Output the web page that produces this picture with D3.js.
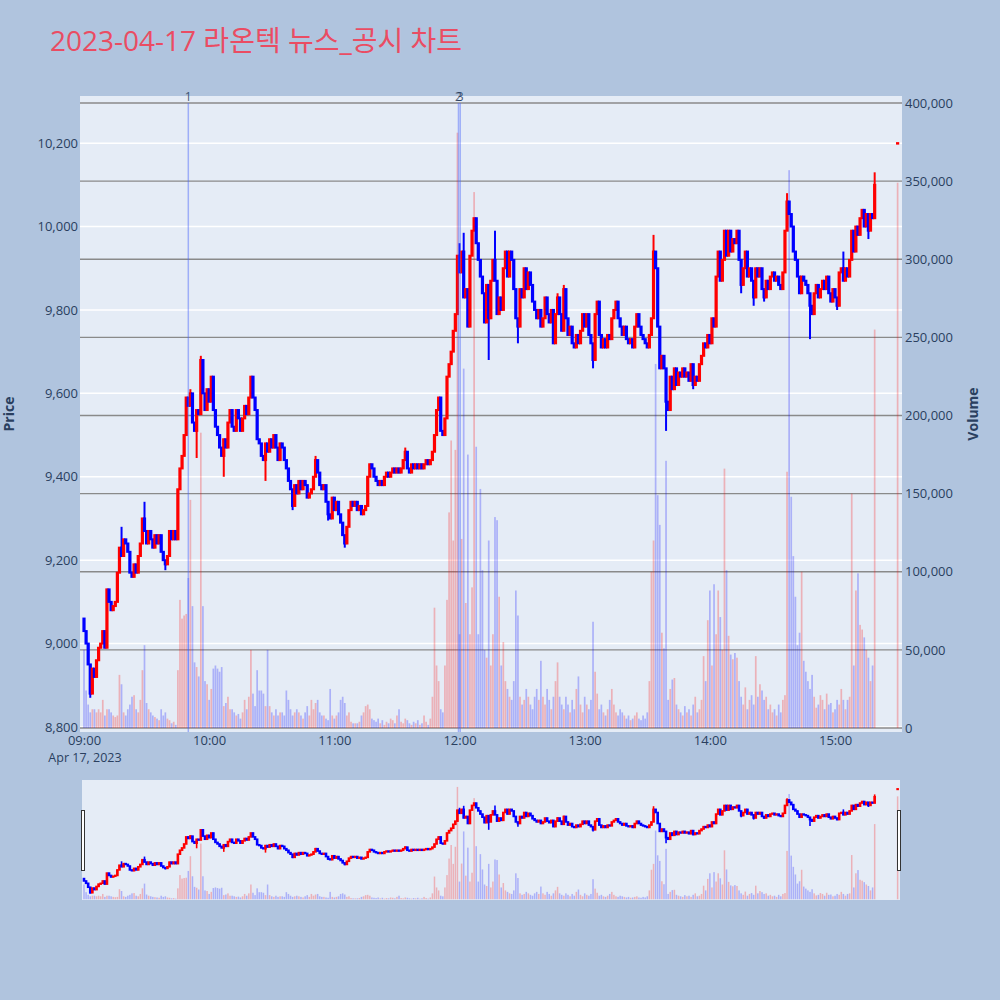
<!DOCTYPE html>
<html><head><meta charset="utf-8">
<script src="https://cdn.jsdelivr.net/npm/d3@7"></script>
<style>body{margin:0;background:#b0c4de;} svg{display:block;}</style>
</head><body><svg id="c" width="1000" height="1000"></svg>
<script>
// ---------------- DATA ----------------
const chartTitle = "2023-04-17 라온텍 뉴스_공시 차트";
const tradeDate = "2023-04-17";
const sessionStart = "09:00:00";
const firstOpen = 9060;
// one close per minute, 09:00 .. 15:19
const closes = [
9030,9000,8950,8880,8940,8920,8960,8990,9000,9030,
8990,9130,9100,9080,9090,9100,9170,9230,9210,9250,
9240,9220,9170,9160,9190,9170,9210,9240,9300,9270,
9240,9270,9250,9230,9260,9240,9260,9220,9200,9190,
9210,9270,9250,9270,9250,9370,9420,9450,9500,9590,
9570,9600,9530,9510,9560,9550,9680,9600,9560,9610,
9580,9640,9560,9520,9500,9470,9450,9490,9470,9530,
9560,9520,9510,9560,9540,9510,9540,9570,9550,9590,
9640,9590,9560,9490,9480,9450,9440,9480,9460,9490,
9470,9500,9470,9440,9480,9470,9440,9420,9390,9370,
9330,9380,9360,9390,9370,9390,9380,9350,9360,9370,
9400,9440,9410,9380,9370,9380,9340,9310,9300,9350,
9320,9340,9310,9290,9260,9240,9280,9320,9340,9330,
9340,9320,9330,9310,9320,9330,9400,9430,9420,9400,
9390,9380,9390,9380,9400,9410,9400,9410,9420,9410,
9420,9410,9420,9440,9460,9420,9410,9430,9420,9430,
9420,9430,9420,9430,9440,9430,9440,9460,9500,9560,
9590,9510,9500,9540,9640,9670,9700,9750,9790,9930,
9890,9940,9830,9850,9760,9930,9990,10020,9960,9920,
9880,9840,9770,9860,9780,9870,9920,9870,9790,9830,
9800,9900,9940,9880,9940,9920,9850,9780,9760,9850,
9830,9900,9850,9890,9860,9820,9800,9780,9800,9760,
9780,9830,9790,9770,9800,9720,9790,9830,9790,9750,
9850,9780,9740,9760,9720,9710,9740,9720,9750,9790,
9760,9790,9740,9720,9680,9790,9820,9740,9710,9730,
9710,9740,9730,9780,9800,9820,9780,9760,9740,9760,
9730,9720,9730,9710,9760,9790,9760,9740,9730,9720,
9710,9740,9780,9940,9900,9760,9660,9690,9660,9580,
9560,9640,9610,9660,9620,9650,9640,9660,9640,9650,
9630,9670,9620,9640,9630,9670,9690,9720,9710,9740,
9720,9780,9760,9880,9940,9870,9920,9990,9930,9990,
9940,9970,9960,9990,9920,9860,9900,9940,9880,9900,
9870,9830,9900,9880,9900,9850,9830,9870,9850,9880,
9890,9870,9880,9860,9850,9890,9990,10060,10030,10000,
9940,9920,9880,9840,9880,9870,9860,9840,9810,9790,
9840,9860,9830,9850,9870,9850,9880,9840,9820,9850,
9830,9810,9890,9900,9870,9900,9880,9920,9990,9940,
10000,9980,10020,10040,10000,10030,9990,10030,10020,10100
];
const volumes = [
50000,24000,15000,10000,12000,12000,10000,12000,10000,18000,
8000,12000,12000,10000,8000,7000,8000,34000,28000,10000,
8000,12000,15000,20000,21000,12000,10000,18000,37000,53000,
16000,12000,10000,8000,7000,6000,5000,12000,8000,10000,
6000,5000,3000,4000,2000,37000,82000,70000,72000,73000,
96000,146000,78000,42000,39000,33000,189000,78000,30000,28000,
18000,25000,38000,40000,38000,36000,39000,14000,16000,20000,
12000,12000,10000,8000,9000,6000,10000,18000,12000,20000,
50000,22000,14000,37000,24000,24000,22000,14000,50000,14000,
10000,8000,12000,8000,10000,10000,8000,24000,18000,12000,
8000,10000,12000,10000,8000,6000,10000,14000,8000,18000,
12000,16000,18000,10000,8000,8000,6000,5000,25000,8000,
6000,8000,10000,18000,20000,16000,8000,10000,4000,3000,
3000,3000,4000,8000,10000,14000,15000,12000,6000,5000,
4000,6000,3000,5000,2000,4000,3000,6000,5000,3000,
8000,12000,4000,3000,6000,5000,3000,2000,4000,3000,
5000,2000,3000,8000,4000,2000,6000,20000,77000,40000,
30000,12000,10000,40000,82000,138000,184000,120000,178000,381000,
60000,121000,230000,80000,175000,60000,90000,343000,180000,60000,
153000,101000,50000,45000,120000,40000,60000,135000,133000,84000,
40000,55000,30000,25000,20000,18000,30000,88000,72000,20000,
15000,18000,25000,20000,15000,12000,20000,25000,18000,43000,
20000,15000,25000,18000,12000,20000,30000,42000,20000,15000,
12000,20000,15000,10000,18000,12000,25000,33000,15000,10000,
20000,15000,12000,18000,68000,36000,22000,12000,15000,10000,
8000,12000,18000,25000,15000,10000,8000,12000,10000,8000,
6000,8000,5000,6000,8000,10000,6000,5000,8000,6000,
10000,30000,100000,120000,233000,149000,130000,61000,51000,171000,
18000,25000,31000,32000,15000,12000,10000,8000,14000,10000,
12000,8000,15000,20000,10000,12000,18000,46000,30000,69000,
88000,40000,92000,60000,88000,71000,50000,166000,101000,59000,
47000,44000,48000,45000,30000,20000,15000,26000,12000,18000,
21000,15000,46000,20000,28000,24000,18000,20000,12000,15000,
10000,12000,8000,15000,10000,18000,21000,164000,357000,148000,
110000,84000,53000,61000,100000,43000,36000,30000,25000,34000,
20000,13000,15000,21000,18000,12000,22000,15000,16000,10000,
12000,18000,15000,25000,18000,12000,18000,20000,150000,40000,
88000,99000,66000,63000,58000,50000,45000,30000,40000,255000
];
// minutes (from 09:00) whose wick reaches beyond the body
const wickMinutes = [3,18,29,39,51,54,56,67,87,100,111,117,125,154,180,182,194,197,208,227,230,244,273,279,292,315,321,326,337,348,361,364,376,379];
const wickHighs   = [null,9280,9340,null,9610,null,9690,null,null,null,9450,null,null,9470,9960,9985,null,9990,null,9840,9860,null,9980,null,null,null,null,null,10080,null,null,9940,null,10130];
const wickLows    = [8870,null,null,9176,null,9445,null,9400,9390,9320,null,9295,9230,null,null,null,9680,null,9720,null,null,9660,null,9510,9610,9840,9810,9820,null,9730,9800,null,9970,null];
// closing single-price trade
const auctionTime = "15:30:00";
const auctionPrice = 10200;
const auctionVolume = 349000;
// ticks
const priceTicks = [8800,9000,9200,9400,9600,9800,10000,10200];
const volumeTicks = [0,50000,100000,150000,200000,250000,300000,350000,400000];
const timeTicks = ["09:00:00","10:00:00","11:00:00","12:00:00","13:00:00","14:00:00","15:00:00"];
// news / disclosure markers
const newsTimes = ["09:50:00","11:59:30","12:00:20"];
const newsLabels = ["1","2","3"];

// ---------------- CHART ----------------
const parse = d3.timeParse("%Y-%m-%d %H:%M:%S");
const T = s => parse(tradeDate + " " + s);
const t0 = T(sessionStart);

const candles = closes.map((c, i) => {
  const o = i === 0 ? firstOpen : closes[i - 1];
  const k = wickMinutes.indexOf(i);
  let hi = Math.max(o, c), lo = Math.min(o, c);
  if (k >= 0) { if (wickHighs[k] != null) hi = Math.max(hi, wickHighs[k]); if (wickLows[k] != null) lo = Math.min(lo, wickLows[k]); }
  return { t: d3.timeMinute.offset(t0, i), o, c, hi, lo, v: volumes[i] };
});
candles.push({ t: T(auctionTime), o: auctionPrice, c: auctionPrice, hi: auctionPrice, lo: auctionPrice, v: auctionVolume });

const UP = "#ff0000", DOWN = "#0000ff";
const col = d => d.c >= d.o ? UP : DOWN;

const svg = d3.select("#c");
const L = 80, R = 902, TOP = 96, BOT = 732;
const x = d3.scaleTime().domain([T("08:58:05"), T("15:32:06")]).range([L, R]);
const yP = d3.scaleLinear().domain([8788, 10313]).range([BOT, TOP]);
const yV = d3.scaleLinear().domain([-2560, 404480]).range([BOT, TOP]);
const font = "'Open Sans', 'Noto Sans CJK KR', sans-serif";
const txt = "#2a3f5f";

svg.append("rect").attr("width", 1000).attr("height", 1000).attr("fill", "#b0c4de");
svg.append("text").attr("x", 50).attr("y", 51).attr("font-family", font).attr("font-size", 28)
  .attr("fill", "#ea4c63").text(chartTitle);

svg.append("rect").attr("x", L).attr("y", TOP).attr("width", R - L).attr("height", BOT - TOP).attr("fill", "#e5ecf6");
const defs = svg.append("defs");
defs.append("clipPath").attr("id", "clipMain").append("rect").attr("x", L).attr("y", TOP).attr("width", R - L).attr("height", BOT - TOP);

// gridlines
svg.append("g").selectAll("line").data(priceTicks).join("line")
  .attr("x1", L).attr("x2", R).attr("y1", d => yP(d)).attr("y2", d => yP(d))
  .attr("stroke", "#ffffff").attr("stroke-width", 1.5);
svg.append("g").selectAll("line").data(volumeTicks).join("line")
  .attr("x1", L).attr("x2", R).attr("y1", d => yV(d)).attr("y2", d => yV(d))
  .attr("stroke", "#8a8a8a").attr("stroke-width", 1.3);

function drawCandles(g, xs, yp, sw, bw) {
  g.selectAll("line.w").data(candles).join("line").attr("class", "w")
    .attr("x1", d => xs(d.t)).attr("x2", d => xs(d.t))
    .attr("y1", d => yp(d.hi)).attr("y2", d => yp(d.lo))
    .attr("stroke", col).attr("stroke-width", sw);
  g.selectAll("rect.b").data(candles).join("rect").attr("class", "b")
    .attr("x", d => xs(d.t) - bw / 2).attr("width", bw)
    .attr("y", d => yp(Math.max(d.o, d.c))).attr("height", d => Math.max(0.5, Math.abs(yp(d.o) - yp(d.c))))
    .attr("fill", col).attr("stroke", col).attr("stroke-width", sw);
}
function drawVolume(g, xs, yv, bw) {
  g.selectAll("rect").data(candles).join("rect")
    .attr("x", d => xs(d.t) - bw / 2).attr("width", bw)
    .attr("y", d => yv(d.v)).attr("height", d => yv(0) - yv(d.v))
    .attr("fill", col).attr("opacity", 0.25);
}
const main = svg.append("g").attr("clip-path", "url(#clipMain)");
drawCandles(main.append("g"), x, yP, 2, 1.2);
drawVolume(main.append("g"), x, yV, 1.7);

// news lines + labels
main.append("g").selectAll("line").data(newsTimes).join("line")
  .attr("x1", d => x(T(d))).attr("x2", d => x(T(d)))
  .attr("y1", yV(400000)).attr("y2", BOT)
  .attr("stroke", "rgba(70,100,250,0.45)").attr("stroke-width", 1.5);
svg.append("g").selectAll("text").data(newsTimes).join("text")
  .attr("x", d => x(T(d))).attr("y", 101).attr("text-anchor", "middle")
  .attr("font-family", font).attr("font-size", 12).attr("fill", txt).attr("opacity", 0.85)
  .text((d, i) => newsLabels[i]);

// axes
const axL = svg.append("g").attr("transform", `translate(${L},0)`)
  .call(d3.axisLeft(yP).tickValues(priceTicks).tickFormat(d3.format(",")).tickSize(0).tickPadding(2));
const axR = svg.append("g").attr("transform", `translate(${R},0)`)
  .call(d3.axisRight(yV).tickValues(volumeTicks).tickFormat(d3.format(",")).tickSize(0).tickPadding(3));
const axB = svg.append("g").attr("transform", `translate(0,${BOT})`)
  .call(d3.axisBottom(x).tickValues(timeTicks.map(T)).tickFormat(d3.timeFormat("%H:%M")).tickSize(0).tickPadding(4));
[axL, axR, axB].forEach(a => {
  a.select(".domain").remove();
  a.selectAll("text").attr("font-family", font).attr("font-size", 13).attr("fill", txt);
});
svg.append("text").attr("x", x(T(timeTicks[0])) + 1).attr("y", 762).attr("text-anchor", "middle")
  .attr("font-family", font).attr("font-size", 12.5).attr("fill", txt).text(d3.timeFormat("%b %-d, %Y")(t0));

svg.append("text").attr("transform", "translate(14,414) rotate(-90)").attr("text-anchor", "middle")
  .attr("font-family", font).attr("font-size", 14).attr("font-weight", "bold").attr("fill", txt).text("Price");
svg.append("text").attr("transform", "translate(978,414) rotate(-90)").attr("text-anchor", "middle")
  .attr("font-family", font).attr("font-size", 14).attr("font-weight", "bold").attr("fill", txt).text("Volume");

// range slider
const ST = 780, SB = 900;
svg.append("rect").attr("x", L + 2).attr("y", ST).attr("width", R - L - 4).attr("height", SB - ST).attr("fill", "#e5ecf6");
const yP2 = yP.copy().range([SB, ST]);
const yV2 = yV.copy().range([SB, ST]);
defs.append("clipPath").attr("id", "clipSl").append("rect").attr("x", L + 2).attr("y", ST).attr("width", R - L - 4).attr("height", SB - ST);
const sl = svg.append("g").attr("clip-path", "url(#clipSl)");
drawCandles(sl.append("g"), x, yP2, 1.6, 1);
drawVolume(sl.append("g"), x, yV2, 1.5);
[L + 1, R - 5].forEach(hx => {
  svg.append("rect").attr("x", hx + 0.5).attr("y", 810.5).attr("width", 3).attr("height", 60)
    .attr("fill", "#fff").attr("stroke", "#333").attr("stroke-width", 1);
});
</script></body></html>
